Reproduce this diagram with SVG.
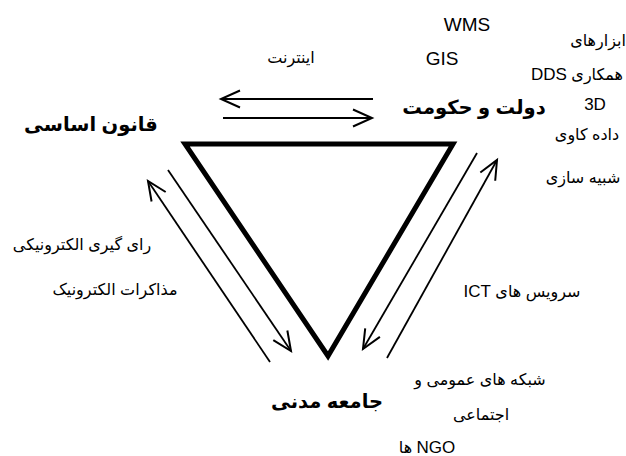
<svg xmlns="http://www.w3.org/2000/svg" width="626" height="456" viewBox="0 0 626 456">
<style>
.fa{font-family:"Liberation Sans","DejaVu Sans",sans-serif;font-size:16px;fill:#000;text-anchor:middle;direction:rtl;unicode-bidi:embed}
.lat{font-family:"Liberation Sans","DejaVu Sans",sans-serif;font-size:19px;fill:#000;text-anchor:middle}
.la{font-size:17px}
.bold{font-weight:bold;font-size:19.5px}
.tri{fill:none;stroke:#000;stroke-width:5;stroke-linejoin:miter}
.con line{stroke:#000;stroke-width:1.8}
.arrow{marker-end:url(#ah)}
</style>
<defs>
<marker id="ah" markerUnits="userSpaceOnUse" markerWidth="24" markerHeight="24" refX="20" refY="10" orient="auto" viewBox="0 0 24 20">
<path d="M1,1.5 L20,10 L1,18.5" fill="none" stroke="#000" stroke-width="2"/>
</marker>
</defs>
<g id="triangle"><polygon class="tri" points="185,144 453,144 328,356"/></g>
<g id="connectors" class="con">
<line class="arrow" x1="373" y1="99" x2="221" y2="99"/>
<line class="arrow" x1="223" y1="118" x2="372" y2="118"/>
<line class="arrow" x1="270" y1="362" x2="148" y2="181"/>
<line class="arrow" x1="168" y1="170" x2="291" y2="351"/>
<line class="arrow" x1="477" y1="153" x2="363" y2="349"/>
<line class="arrow" x1="387" y1="358" x2="497" y2="160"/>
</g>
<g id="node-government">
<text class="fa bold" x="474" y="114">دولت و حکومت</text>
</g>
<g id="node-constitution">
<text class="fa bold" x="91" y="131">قانون اساسی</text>
</g>
<g id="node-civil-society">
<text class="fa bold" x="327" y="408">جامعه مدنی</text>
</g>
<g id="label-internet"><text class="fa" x="291" y="63">اینترنت</text></g>
<g id="label-tools">
<text class="lat" x="467" y="31">WMS</text>
<text class="lat" x="442" y="65">GIS</text>
<text class="fa" x="598" y="46">ابزارهای</text>
<text class="fa" x="577" y="80">همکاری <tspan class="la">DDS</tspan></text>
<text class="fa la" x="595" y="110">3D</text>
<text class="fa" x="587" y="140">داده کاوی</text>
<text class="fa" x="583" y="183">شبیه سازی</text>
</g>
<g id="label-evoting">
<text class="fa" x="82" y="250">رای گیری الکترونیکی</text>
<text class="fa" x="115" y="295">مذاکرات الکترونیک</text>
</g>
<g id="label-ict">
<text class="fa" x="522" y="297">سرویس های <tspan class="la">ICT</tspan></text>
<text class="fa" x="480" y="385">شبکه های عمومی و</text>
<text class="fa" x="481" y="420">اجتماعی</text>
<text class="fa" x="427" y="453"><tspan class="la">NGO</tspan> ها</text>
</g>
</svg>
